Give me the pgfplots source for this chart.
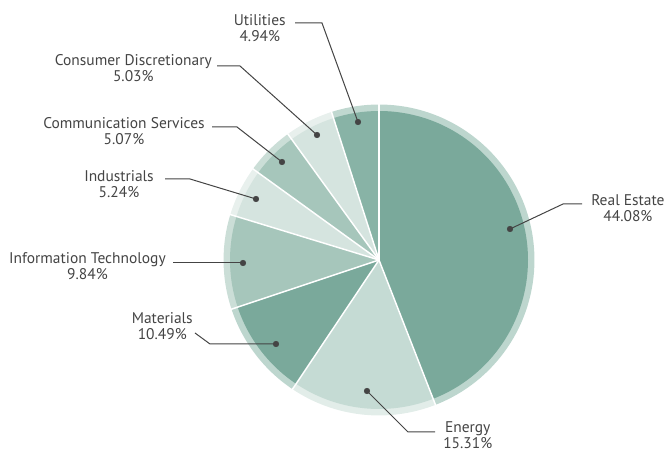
\documentclass[border=0pt]{standalone}
\usepackage{pgfplots}
\pgfplotsset{compat=1.18}
\usepackage{fontspec}
\setmainfont{PT Sans}
\definecolor{txt}{HTML}{444444}
\definecolor{cA}{HTML}{7AA99B}\definecolor{rA}{HTML}{BDD6CE}
\definecolor{cB}{HTML}{C5DBD4}\definecolor{rB}{HTML}{E2EDE9}
\definecolor{cC}{HTML}{A6C6BB}\definecolor{rC}{HTML}{CBDED7}
\definecolor{cD}{HTML}{D5E4DF}\definecolor{rD}{HTML}{E8F0ED}
\definecolor{cE}{HTML}{88B3A6}\definecolor{rE}{HTML}{C0D8D0}
% slice: #1 cumulative start (%), #2 value (%), #3 colour, #4 ring colour
\newcommand\slice[4]{%
  \fill[#4] (axis cs:379,192) -- ++({90-3.6*(#1)}:116.6pt)
    arc[start angle={90-3.6*(#1)}, end angle={90-3.6*(#1+#2)}, radius=116.6pt] -- cycle;
  \fill[#3] (axis cs:379,192) -- ++({90-3.6*(#1)}:111.75pt)
    arc[start angle={90-3.6*(#1)}, end angle={90-3.6*(#1+#2)}, radius=111.75pt] -- cycle;
}
\newcommand\sep[1]{\draw[white, line width=1.1pt] (axis cs:379,192) -- ++({90-3.6*(#1)}:117.5pt);}
\begin{document}
\begin{tikzpicture}
\begin{axis}[scale only axis, width=498.75pt, height=339pt,
  xmin=0, xmax=665, ymin=0, ymax=452, hide axis, clip=false]
% Sector shares (%), clockwise from 12 o'clock
\slice{0}{44.08}{cA}{rA}      % Real Estate
\slice{44.08}{15.31}{cB}{rB}  % Energy
\slice{59.39}{10.49}{cA}{rA}  % Materials
\slice{69.88}{9.84}{cC}{rC}   % Information Technology
\slice{79.72}{5.24}{cD}{rD}   % Industrials
\slice{84.96}{5.07}{cC}{rC}   % Communication Services
\slice{90.03}{5.03}{cD}{rD}   % Consumer Discretionary
\slice{95.06}{4.94}{cE}{rE}   % Utilities
\sep{0}\sep{44.08}\sep{59.39}\sep{69.88}\sep{79.72}\sep{84.96}\sep{90.03}\sep{95.06}
% leaders
\begin{scope}[txt, line width=0.75pt]
\draw (axis cs:295,429) -- (axis cs:322,429) -- (axis cs:358,330);
\draw (axis cs:217,386) -- (axis cs:240,386) -- (axis cs:317,317);
\draw (axis cs:212,325) -- (axis cs:237,325) -- (axis cs:282,290);
\draw (axis cs:165,273) -- (axis cs:190,273) -- (axis cs:256,253);
\draw (axis cs:173,189) -- (axis cs:243,189);
\draw (axis cs:195,119) -- (axis cs:210,108) -- (axis cs:276,108);
\draw (axis cs:367,61) -- (axis cs:408,20) -- (axis cs:435,20);
\draw (axis cs:510,223) -- (axis cs:563,248) -- (axis cs:582,248);
\end{scope}
\addplot[only marks, mark=*, mark size=2.1pt, color=txt] coordinates {
 (358,330) (317,317) (282,290) (256,253) (243,189) (276,108) (367,61) (510,223)};
% labels
\begin{scope}[every node/.style={inner sep=0pt, align=center, text=txt,
    font=\fontsize{11.6}{12}\selectfont}]
\node[anchor=north east] at (axis cs:286,438) {Utilities\\4.94\%};
\node[anchor=north east] at (axis cs:212,398) {Consumer Discretionary\\5.03\%};
\node[anchor=north east] at (axis cs:205,335) {Communication Services\\5.07\%};
\node[anchor=north east] at (axis cs:154,282) {Industrials\\5.24\%};
\node[anchor=north east] at (axis cs:166,200) {Information Technology\\9.84\%};
\node[anchor=north east] at (axis cs:193,140) {Materials\\10.49\%};
\node[anchor=north west] at (axis cs:443,31) {Energy\\15.31\%};
\node[anchor=north west] at (axis cs:591,258) {Real Estate\\44.08\%};
\end{scope}
\end{axis}
\pgfresetboundingbox
\useasboundingbox (0,0) rectangle (498.75pt,339pt);
\end{tikzpicture}
\end{document}
